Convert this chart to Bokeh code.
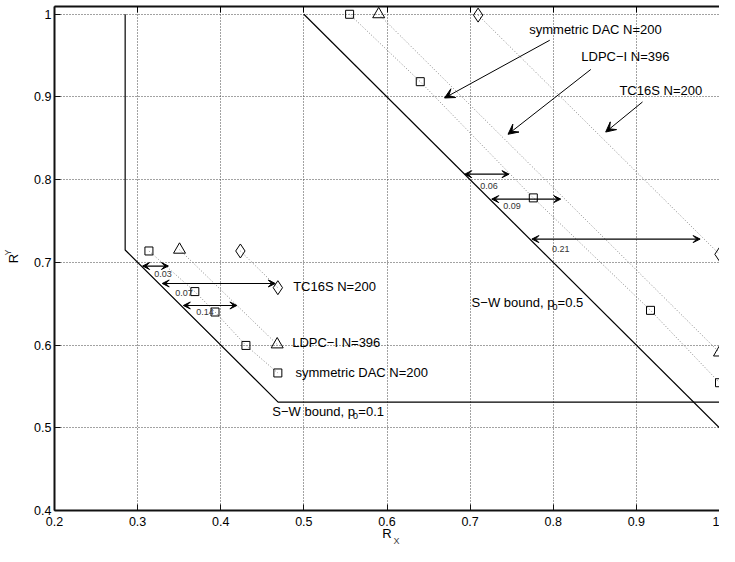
from bokeh.plotting import figure
from bokeh.models import (Range1d, FixedTicker, LinearAxis, CustomJSTickFormatter,
                          Arrow, VeeHead, ColumnDataSource, Title)
from bokeh.core.properties import value
from bokeh.embed import file_html
from bokeh.resources import INLINE

FONT = "Liberation Sans"

# ---------------- data ----------------
x_ticks = [0.2, 0.3, 0.4, 0.5, 0.6, 0.7, 0.8, 0.9, 1.0]
y_ticks = [0.4, 0.5, 0.6, 0.7, 0.8, 0.9, 1.0]

# Slepian-Wolf bounds
sw01_x = [0.285, 0.285, 0.469, 1.0]
sw01_y = [1.0, 0.715, 0.531, 0.531]
sw05_x = [0.5, 1.0]
sw05_y = [1.0, 0.5]

# p0 = 0.5 region (upper)
dac_hi_x = [0.555, 0.640, 0.776, 0.917, 1.0]
dac_hi_y = [1.0, 0.9185, 0.778, 0.642, 0.5545]
ldpc_hi_x = [0.590, 1.0]
ldpc_hi_y = [1.0, 0.591]
tc_hi_x = [0.7096, 1.0]
tc_hi_y = [0.999, 0.7098]

# p0 = 0.1 region (lower)
dac_lo_x = [0.3136, 0.3688, 0.3931, 0.4303, 0.4687]
dac_lo_y = [0.7138, 0.6647, 0.6400, 0.5996, 0.5663]
ldpc_lo_x = [0.3504, 0.4679]
ldpc_lo_y = [0.7153, 0.6008]
tc_lo_x = [0.4236, 0.4687]
tc_lo_y = [0.7138, 0.6694]

# series labels
lab_text = ["symmetric DAC N=200", "LDPC\u2212I N=396", "TC16S N=200",
            "TC16S N=200", "LDPC\u2212I N=396", "symmetric DAC N=200"]
lab_x = [0.7711, 0.8337, 0.8796, 0.4871, 0.4859, 0.4899]
lab_y = [0.9812, 0.9490, 0.9074, 0.6714, 0.6027, 0.5674]

# pointer arrows (label -> curve)
ptr_x0 = [0.7958, 0.8452, 0.9074]
ptr_y0 = [0.9686, 0.9333, 0.8940]
ptr_x1 = [0.6692, 0.7456, 0.8631]
ptr_y1 = [0.8988, 0.8549, 0.8576]

# gap arrows (double headed)
gap_y = [0.6956, 0.6745, 0.6479, 0.8067, 0.7765, 0.7282]
gap_x0 = [0.3060, 0.3296, 0.3550, 0.6935, 0.7260, 0.7743]
gap_x1 = [0.3370, 0.4656, 0.4194, 0.7468, 0.8090, 0.9767]
gap_text = ["0.03", "0.07", "0.14", "0.06", "0.09", "0.21"]
gap_tx = [0.3199, 0.3454, 0.3704, 0.7123, 0.7397, 0.7985]
gap_ty = [0.6862, 0.6635, 0.6400, 0.7929, 0.7686, 0.7157]

# bound labels: main part, subscript, tail
swl_main = ["S\u2212W bound, p", "S\u2212W bound, p"]
swl_sub = ["0", "0"]
swl_tail = ["=0.5", "=0.1"]
swl_x = [0.7018, 0.4620]
swl_y = [0.6518, 0.5200]
swl_sx = [0.7990, 0.5592]
swl_sy = [0.6459, 0.5141]
swl_tx = [0.8052, 0.5655]

# ---------------- figure ----------------
p = figure(width=719, height=546, output_backend="svg", toolbar_location=None,
           x_range=Range1d(0.2, 1.0), y_range=Range1d(0.4, 1.0094),
           min_border_left=54, min_border_right=0, min_border_top=6,
           min_border_bottom=36)
p.outline_line_color = None
p.background_fill_color = "white"
p.border_fill_color = "white"

fmt = CustomJSTickFormatter(code="return (Math.round(tick*10)/10).toString();")
xt = FixedTicker(ticks=x_ticks)
yt = FixedTicker(ticks=y_ticks)

for ax, tk in ((p.xaxis[0], xt), (p.yaxis[0], yt)):
    ax.ticker = tk
    ax.formatter = fmt
    ax.major_tick_in = 6
    ax.major_tick_out = 0
    ax.minor_tick_in = 0
    ax.minor_tick_out = 0
    ax.axis_line_width = 2
    ax.axis_line_color = "#111111"
    ax.major_tick_line_color = "#111111"
    ax.major_label_text_font = FONT
    ax.major_label_text_font_size = "12.5px"
    ax.major_label_text_color = "black"
    ax.axis_label = "R"
    ax.axis_label_text_font = FONT
    ax.axis_label_text_font_size = "13px"
    ax.axis_label_text_font_style = "normal"
    ax.axis_label_text_color = "black"
p.xaxis[0].major_label_standoff = 6
p.yaxis[0].major_label_standoff = 3
p.xaxis[0].axis_label_standoff = -3
p.yaxis[0].axis_label_standoff = 10

top = LinearAxis(ticker=xt, major_tick_in=6, major_tick_out=0, minor_tick_in=0,
                 minor_tick_out=0, axis_line_width=2, axis_line_color="#111111",
                 major_label_standoff=0,
                 formatter=CustomJSTickFormatter(code="return '';"),
                 major_label_text_font_size="0px")
p.add_layout(top, "above")

# subscripts of the axis labels
p.add_layout(Title(text="X", align="left", offset=339, standoff=-16,
                   vertical_align="top",
                   text_font=FONT, text_font_size="9px", text_font_style="normal"),
             "below")
p.add_layout(Title(text="Y", align="left", offset=255, standoff=-18,
                   text_font=FONT, text_font_size="9px", text_font_style="normal"),
             "left")

p.xgrid.ticker = xt
p.ygrid.ticker = yt
for g in (p.xgrid, p.ygrid):
    g.grid_line_color = "#444444"
    g.grid_line_dash = "1 2"
    g.grid_line_width = 1

# dotted code lines
dot = dict(line_color="#888888", line_dash="1 2", line_width=1)
for xs, ys in ((dac_hi_x, dac_hi_y), (ldpc_hi_x, ldpc_hi_y), (tc_hi_x, tc_hi_y),
               (dac_lo_x, dac_lo_y), (ldpc_lo_x, ldpc_lo_y), (tc_lo_x, tc_lo_y)):
    p.line(xs, ys, **dot)

# bounds
p.line(sw01_x, sw01_y, line_color="black", line_width=1.2)
p.line(sw05_x, sw05_y, line_color="black", line_width=1.2)

# markers
mk = dict(fill_color=None, line_color="black", line_width=1)
p.scatter(dac_hi_x + dac_lo_x, dac_hi_y + dac_lo_y, marker="square", size=8, **mk)
p.scatter(ldpc_hi_x + ldpc_lo_x, ldpc_hi_y + ldpc_lo_y, marker="triangle", size=12, **mk)
p.scatter(tc_hi_x + tc_lo_x, tc_hi_y + tc_lo_y, marker="diamond", size=14, **mk)

# pointer arrows
ptr = ColumnDataSource(dict(x0=ptr_x0, y0=ptr_y0, x1=ptr_x1, y1=ptr_y1))
p.add_layout(Arrow(source=ptr, x_start="x0", y_start="y0", x_end="x1", y_end="y1",
                   line_color="black", line_width=1,
                   end=VeeHead(size=10, fill_color="black", line_color="black")))

# gap arrows
gap = ColumnDataSource(dict(x0=gap_x0, x1=gap_x1, y=gap_y))
p.add_layout(Arrow(source=gap, x_start="x0", y_start="y", x_end="x1", y_end="y",
                   line_color="black", line_width=1.2,
                   start=VeeHead(size=7, fill_color="black", line_color="black"),
                   end=VeeHead(size=7, fill_color="black", line_color="black")))

p.text(x=gap_tx, y=gap_ty, text=gap_text, text_font=value(FONT),
       text_font_size="9px", text_baseline="middle", text_align="left",
       text_color="#333333")

p.text(x=lab_x, y=lab_y, text=lab_text, text_font=value(FONT),
       text_font_size="13px", text_baseline="middle", text_align="left",
       text_color="black")

p.text(x=swl_x, y=swl_y, text=swl_main, text_font=value(FONT),
       text_font_size="13px", text_baseline="middle", text_align="left",
       text_color="black")
p.text(x=swl_sx, y=swl_sy, text=swl_sub, text_font=value(FONT),
       text_font_size="9px", text_baseline="middle", text_align="left",
       text_color="black")
p.text(x=swl_tx, y=swl_y, text=swl_tail, text_font=value(FONT),
       text_font_size="13px", text_baseline="middle", text_align="left",
       text_color="black")

open("out.html", "w").write(file_html(p, INLINE))
